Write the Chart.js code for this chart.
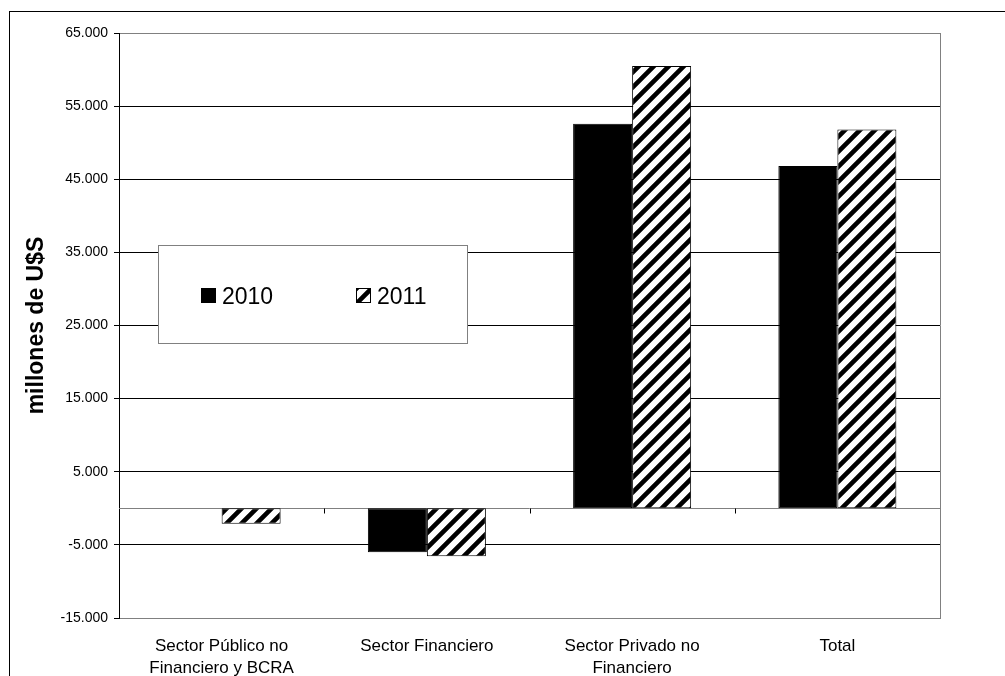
<!DOCTYPE html>
<html lang="es">
<head>
<meta charset="utf-8">
<title>Sectores 2010-2011</title>
<script src="https://cdn.jsdelivr.net/npm/chart.js@4.4.1/dist/chart.umd.min.js"></script>
<style>
  html, body { margin: 0; padding: 0; background: #fff; overflow: hidden; }
  #wrap { position: relative; width: 1005px; height: 676px; }
  #frame { position: absolute; left: 9px; top: 11px; width: 1200px; height: 900px;
           border: 1px solid #000; box-sizing: border-box; pointer-events: none; }
  canvas { position: absolute; left: 0; top: 0; }
</style>
</head>
<body>
<div id="wrap">
  <canvas id="chart" width="1005" height="676"></canvas>
  <div id="frame"></div>
</div>
<script>
// Categories (sectors) and yearly values, millones de U$S
const categories = [
  ['Sector Público no', 'Financiero y BCRA'],
  'Sector Financiero',
  ['Sector Privado no', 'Financiero'],
  'Total'
];
const seriesNames = ['2010', '2011'];
const values2010 = [0, -6000, 52600, 46800];
const values2011 = [-2100, -6550, 60500, 51800];
const yTickValues = [-15000, -5000, 5000, 15000, 25000, 35000, 45000, 55000, 65000];
const yAxisTitle = 'millones de U$S';

const FONT = '"Liberation Sans", Arial, sans-serif';
const GRAY = '#808080';

// Thousands with a dot, as in "65.000"
function fmt(v) {
  const s = Math.abs(v).toString().replace(/\B(?=(\d{3})+(?!\d))/g, '.');
  return (v < 0 ? '-' : '') + s;
}

// Diagonal stripe fill for the second series
function makeHatch() {
  const s = 15;
  const c = document.createElement('canvas');
  c.width = s; c.height = s;
  const g = c.getContext('2d');
  g.fillStyle = '#fff';
  g.fillRect(0, 0, s, s);
  g.strokeStyle = '#000';
  g.lineWidth = 4.6;
  g.lineCap = 'square';
  g.beginPath();
  for (let k = -1; k <= 1; k++) {
    g.moveTo(k * s - 2, s + 2);
    g.lineTo(k * s + s + 2, -2);
  }
  g.stroke();
  return g.createPattern(c, 'repeat');
}
const hatch = makeHatch();

// Zero line with category separators, right border of the plot, and the boxed legend
const framePlugin = {
  id: 'frame',
  beforeDatasetsDraw(chart) {
    const { ctx, chartArea: a, scales: { x, y } } = chart;
    const y0 = Math.round(y.getPixelForValue(0)) + 0.5;
    ctx.save();
    ctx.strokeStyle = GRAY;
    ctx.lineWidth = 1;
    ctx.beginPath();
    ctx.moveTo(a.left, y0);
    ctx.lineTo(a.right, y0);
    ctx.stroke();
    ctx.strokeStyle = '#000';
    ctx.beginPath();
    const n = chart.data.labels.length;
    for (let i = 1; i < n; i++) {
      const px = Math.round((x.getPixelForValue(i - 1) + x.getPixelForValue(i)) / 2) + 0.5;
      ctx.moveTo(px, y0);
      ctx.lineTo(px, y0 + 5);
    }
    ctx.stroke();
    ctx.restore();
  },
  afterDatasetsDraw(chart) {
    const { ctx, chartArea: a } = chart;
    ctx.save();
    ctx.strokeStyle = GRAY;
    ctx.lineWidth = 1;
    ctx.beginPath();
    ctx.moveTo(Math.round(a.right) + 0.5, a.top);
    ctx.lineTo(Math.round(a.right) + 0.5, a.bottom);
    ctx.stroke();

    // legend box
    const bx = Math.round(a.left + 39) + 0.5;
    const by = Math.round(a.top + 212) + 0.5;
    const bw = 309, bh = 98;
    ctx.fillStyle = '#fff';
    ctx.fillRect(bx, by, bw, bh);
    ctx.strokeStyle = GRAY;
    ctx.strokeRect(bx, by, bw, bh);

    const offsets = [42, 197];
    const sw = 15;
    const cy = by + 50;
    ctx.font = '23px ' + FONT;
    ctx.textBaseline = 'alphabetic';
    ctx.textAlign = 'left';
    chart.data.datasets.forEach((ds, i) => {
      const sx = Math.round(bx + offsets[i]);
      const sy = Math.round(cy - sw / 2);
      ctx.fillStyle = ds.backgroundColor;
      ctx.fillRect(sx, sy, sw, sw);
      ctx.strokeStyle = '#000';
      ctx.strokeRect(sx + 0.5, sy + 0.5, sw - 1, sw - 1);
      ctx.fillStyle = '#000';
      ctx.fillText(ds.label, sx + sw + 6, sy + sw + 0.5);
    });
    ctx.restore();
  }
};

new Chart(document.getElementById('chart'), {
  type: 'bar',
  data: {
    labels: categories,
    datasets: [
      { label: seriesNames[0], data: values2010, backgroundColor: '#000',
        borderColor: '#000', borderWidth: 1, borderSkipped: false },
      { label: seriesNames[1], data: values2011, backgroundColor: hatch,
        borderColor: '#000', borderWidth: 1, borderSkipped: false }
    ]
  },
  options: {
    responsive: false,
    animation: false,
    devicePixelRatio: 1,
    layout: { padding: { top: 33, right: 65, bottom: 0, left: 0 } },
    datasets: { bar: { categoryPercentage: 0.575, barPercentage: 1 } },
    plugins: { legend: { display: false }, tooltip: { enabled: false } },
    scales: {
      x: {
        offset: true,
        grid: { display: true, drawOnChartArea: false, drawTicks: false },
        border: { color: GRAY, width: 1 },
        ticks: { color: '#000', padding: 17, maxRotation: 0, autoSkip: false,
                 font: { family: FONT, size: 17, lineHeight: 1.3 } },
        afterFit(scale) { scale.height = 58; }
      },
      y: {
        min: -15000,
        max: 65000,
        afterBuildTicks(scale) { scale.ticks = yTickValues.map(v => ({ value: v })); },
        grid: {
          color: ctx => (ctx.tick && (ctx.tick.value === 65000 || ctx.tick.value === -15000)) ? GRAY : '#000',
          tickColor: '#000',
          tickLength: 5,
          lineWidth: 1
        },
        border: { color: '#000', width: 1 },
        ticks: { color: '#000', padding: 6, callback: v => fmt(v),
                 font: { family: FONT, size: 14 } },
        title: { display: true, text: yAxisTitle, color: '#000',
                 padding: { top: 23, bottom: 0 },
                 font: { family: FONT, size: 23, weight: 'bold' } },
        afterFit(scale) { scale.width = 119; }
      }
    }
  },
  plugins: [framePlugin]
});
</script>
</body>
</html>
